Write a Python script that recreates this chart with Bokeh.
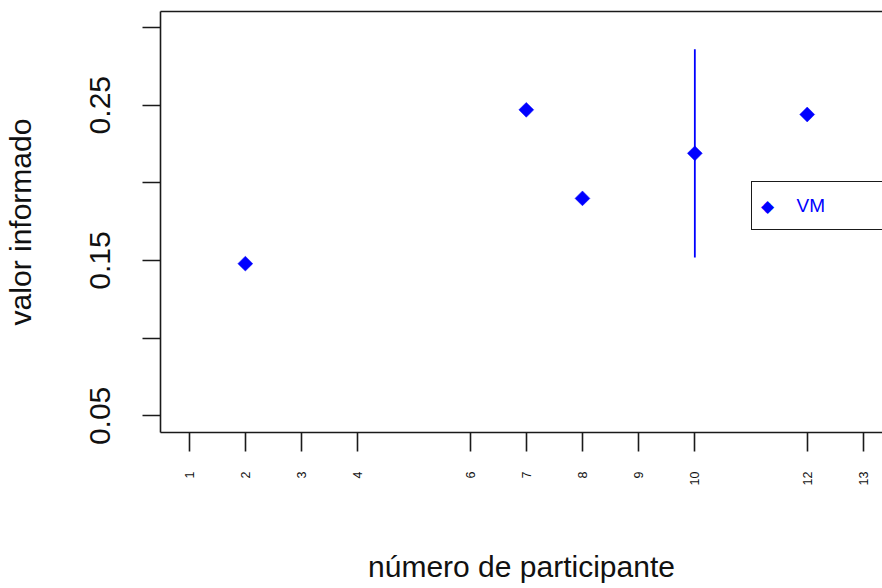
from math import pi

from bokeh.plotting import figure
from bokeh.models import (LinearAxis, FixedTicker, Range1d, Legend, LegendItem,
                          ColumnDataSource, Label)
from bokeh.embed import file_html
from bokeh.resources import INLINE

# Valores informados por participante
participante = [2, 7, 8, 10, 12]
valor = [0.148, 0.247, 0.190, 0.219, 0.244]

# Barra de incerteza (só o participante 10 informou)
barra_participante = [10]
barra_inf = [0.152]
barra_sup = [0.286]

# Marcas dos eixos
x_ticks = [1, 2, 3, 4, 6, 7, 8, 9, 10, 12, 13]
y_ticks = [0.05, 0.10, 0.15, 0.20, 0.25, 0.30]
y_tick_labels = ["0.05", "", "0.15", "", "0.25", ""]
serie = "VM"

FONT = "Liberation Sans"
INK = "#1a1a1a"

p = figure(width=882, height=588, output_backend="svg", toolbar_location=None,
           x_range=Range1d(0.49, 13.34), y_range=Range1d(0.0393, 0.3103),
           x_axis_label="número de participante", y_axis_label="valor informado",
           min_border_left=160, min_border_right=0, min_border_top=11,
           min_border_bottom=156)
p.outline_line_color = None
p.grid.visible = False
p.background_fill_color = "white"
p.border_fill_color = "white"

xa = p.below[0]
ya = p.left[0]

# linha superior da caixa
topo = LinearAxis(ticker=FixedTicker(ticks=[]), axis_line_color=INK,
                  axis_line_width=1.6, major_tick_out=0, minor_tick_out=0,
                  major_label_text_font_size="0px", major_label_standoff=0)
p.add_layout(topo, "above")

for ax in (xa, ya):
    ax.axis_line_color = INK
    ax.axis_line_width = 1.6
    ax.major_tick_line_color = INK
    ax.major_tick_line_width = 1.6
    ax.major_tick_in = 0
    ax.minor_tick_line_color = None
    ax.major_label_text_font = FONT
    ax.major_label_text_color = "#111111"
    ax.axis_label_text_font = FONT
    ax.axis_label_text_font_style = "normal"
    ax.axis_label_text_color = "#111111"
    ax.axis_label_text_font_size = "30px"

xa.ticker = FixedTicker(ticks=x_ticks)
xa.major_tick_out = 19
xa.major_label_orientation = pi / 2
xa.major_label_text_font_size = "12.5px"
xa.major_label_standoff = 20
xa.axis_label_standoff = 62

ya.ticker = FixedTicker(ticks=y_ticks)
ya.major_label_overrides = {t: s for t, s in zip(y_ticks, y_tick_labels)}
ya.major_tick_out = 18
ya.major_label_orientation = "parallel"
ya.major_label_text_font_size = "30px"
ya.major_label_standoff = 32
ya.axis_label_standoff = 51

barra = ColumnDataSource(dict(x=barra_participante, lo=barra_inf, hi=barra_sup))
p.segment(x0="x", y0="lo", x1="x", y1="hi", source=barra,
          line_color="blue", line_width=1.8)

pontos = ColumnDataSource(dict(x=participante, y=valor))
p.scatter(x="x", y="y", source=pontos, marker="square", angle=pi / 4,
          size=10.5, fill_color="blue", line_color="blue", line_width=0.5)

# renderer sem desenho, só para a entrada da legenda
chave = p.scatter(x="x", y="y", source=pontos, marker="square",
                  fill_alpha=0, line_alpha=0)

leg = Legend(items=[LegendItem(label=serie, renderers=[chave])],
             location=(590.5, 202), margin=0, padding=6,
             glyph_width=20, glyph_height=35, label_standoff=19,
             label_width=200, label_text_font=FONT, label_text_font_size="19px",
             label_text_color="blue", border_line_color=INK,
             border_line_alpha=1.0, border_line_width=1.6,
             background_fill_alpha=0.0)
p.add_layout(leg, "center")

# losango da chave da legenda
p.add_layout(Label(x=607, y=226.5, x_units="screen", y_units="screen",
                   text="\u25c6", text_font="DejaVu Sans", text_font_size="17px",
                   text_color="blue", text_align="center",
                   text_baseline="middle"))

open("out.html", "w").write(file_html(p, INLINE))
